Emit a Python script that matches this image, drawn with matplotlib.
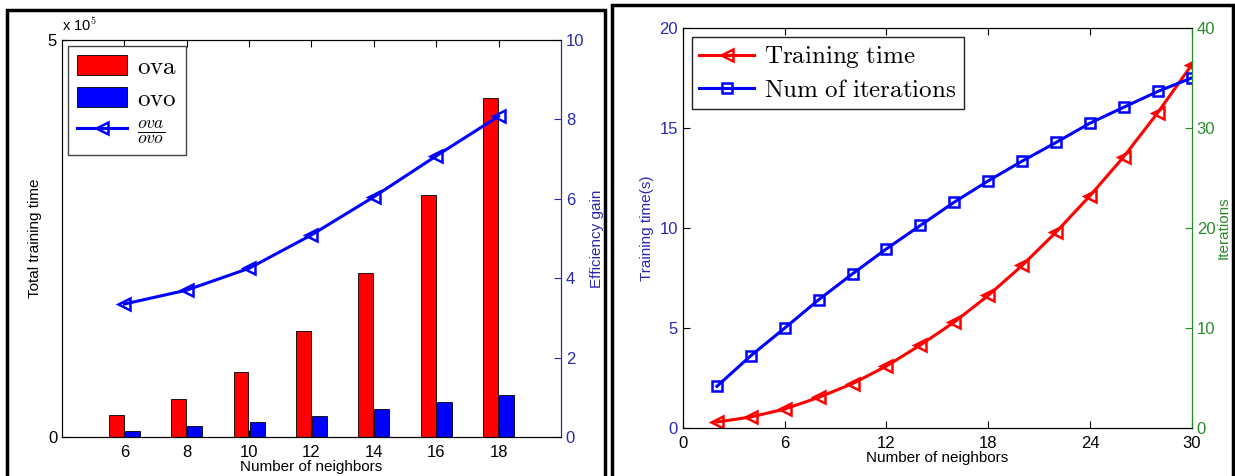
import matplotlib
matplotlib.use('Agg')
import matplotlib.pyplot as plt
from matplotlib.patches import Rectangle
import numpy as np

plt.rcParams['font.family'] = ['Liberation Sans', 'DejaVu Sans']
plt.rcParams['mathtext.fontset'] = 'cm'

# left panel data
neighbors_a = [6, 8, 10, 12, 14, 16, 18]
ova_time = [0.277, 0.479, 0.819, 1.332, 2.067, 3.05, 4.273]   # x 1e5
ovo_time = [0.08, 0.139, 0.189, 0.269, 0.349, 0.437, 0.529]   # x 1e5
gain = [3.35, 3.70, 4.25, 5.09, 6.05, 7.08, 8.08]

# right panel data
neighbors_b = [2, 4, 6, 8, 10, 12, 14, 16, 18, 20, 22, 24, 26, 28, 30]
train_time = [0.3, 0.55, 0.95, 1.53, 2.22, 3.1, 4.15, 5.3, 6.63, 8.13,
              9.8, 11.62, 13.58, 15.78, 18.17]
iterations = [4.17, 7.23, 10.0, 12.83, 15.43, 17.93, 20.27, 22.6, 24.73,
              26.7, 28.57, 30.5, 32.1, 33.67, 35.03]

RED = '#ff0000'
BLUE = '#0000ff'
AXBLUE = '#2828b0'
GREEN = '#2a8a2a'

fig = plt.figure(figsize=(12.35, 4.76), dpi=100)


def style_ax(ax):
    ax.tick_params(direction='in', length=5, labelsize=12, top=True)
    ax.tick_params(axis='x', pad=6)


# ---- left panel ----
ax1 = fig.add_axes([0.0502, 0.0819, 0.404, 0.834])
x = np.array(neighbors_a)
w = 0.48
ax1.bar(x - w / 2 - 0.02, ova_time, w, color=RED, edgecolor='black', linewidth=0.6,
        label=r'$\mathrm{ova}$')
ax1.bar(x + w / 2 + 0.02, ovo_time, w, color=BLUE, edgecolor='black', linewidth=0.6,
        label=r'$\mathrm{ovo}$')
ax1.set_xlim(4, 20)
ax1.set_ylim(0, 5)
ax1.set_yticks([0, 5])
ax1.set_xticks(neighbors_a)
style_ax(ax1)
ax1.tick_params(axis='y', right=False)
ax1.set_ylabel('Total training time', fontsize=11)
ax1.set_xlabel('Number of neighbors', fontsize=11, labelpad=0)
ax1.text(0.0, 1.015, r'x 10$^{5}$', transform=ax1.transAxes, fontsize=10.5, va='bottom')

ax1r = ax1.twinx()
ax1r.plot(neighbors_a, gain, color=BLUE, lw=2.2, marker='<', ms=8,
          mfc='none', mew=1.8, label=r'$\frac{ova}{ovo}$')
ax1r.set_ylim(0, 10)
ax1r.set_yticks([0, 2, 4, 6, 8, 10])
ax1r.tick_params(direction='in', length=5, labelsize=12, colors=AXBLUE)
ax1r.spines['right'].set_color(AXBLUE)
ax1r.set_ylabel('Efficiency gain', fontsize=11, color=AXBLUE)

h1, l1 = ax1.get_legend_handles_labels()
h2, l2 = ax1r.get_legend_handles_labels()
leg = ax1r.legend(h1 + h2, l1 + l2, loc='upper left', fontsize=18,
                  fancybox=False, edgecolor='#444444', framealpha=1,
                  borderaxespad=0.25, handlelength=2.0, handleheight=0.85,
                  labelspacing=0.3, handletextpad=0.4, borderpad=0.35)
leg.get_frame().set_linewidth(1.0)

# ---- right panel ----
ax2 = fig.add_axes([0.553, 0.1008, 0.412, 0.840])
ax2.plot(neighbors_b, train_time, color=RED, lw=2.2, marker='<', ms=8,
         mfc='none', mew=1.8, label=r'$\mathrm{Training\ time}$')
ax2.set_xlim(0, 30)
ax2.set_ylim(0, 20)
ax2.set_xticks([0, 6, 12, 18, 24, 30])
ax2.set_yticks([0, 5, 10, 15, 20])
style_ax(ax2)
ax2.tick_params(axis='y', right=False, labelcolor=AXBLUE)
ax2.set_ylabel('Training time(s)', fontsize=11, color=AXBLUE)
ax2.set_xlabel('Number of neighbors', fontsize=11, labelpad=0)

ax2r = ax2.twinx()
ax2r.plot(neighbors_b, iterations, color=BLUE, lw=2.2, marker='s', ms=7,
          mfc='none', mew=1.8, label=r'$\mathrm{Num\ of\ iterations}$')
ax2r.set_ylim(0, 40)
ax2r.set_yticks([0, 10, 20, 30, 40])
ax2r.tick_params(direction='in', length=5, labelsize=12, colors=GREEN)
ax2r.spines['right'].set_color(GREEN)
ax2r.set_ylabel('Iterations', fontsize=11, color=GREEN, labelpad=1)

h1, l1 = ax2.get_legend_handles_labels()
h2, l2 = ax2r.get_legend_handles_labels()
leg2 = ax2r.legend(h1 + h2, l1 + l2, loc='upper left', fontsize=18,
                   fancybox=False, edgecolor='#222222', framealpha=1,
                   borderaxespad=0.35, handlelength=2.2, labelspacing=0.3,
                   handletextpad=0.4, borderpad=0.3)
leg2.get_frame().set_linewidth(1.0)

# panel borders
fig.patches.append(Rectangle((7 / 1235, -0.01), 598 / 1235, 1 - 10 / 476 + 0.01,
                             transform=fig.transFigure, fill=False, lw=2.5,
                             edgecolor='black'))
fig.patches.append(Rectangle((612 / 1235, -0.01), 621 / 1235, 1 - 5 / 476 + 0.01,
                             transform=fig.transFigure, fill=False, lw=2.5,
                             edgecolor='black'))

fig.savefig('out.png', dpi=100)
